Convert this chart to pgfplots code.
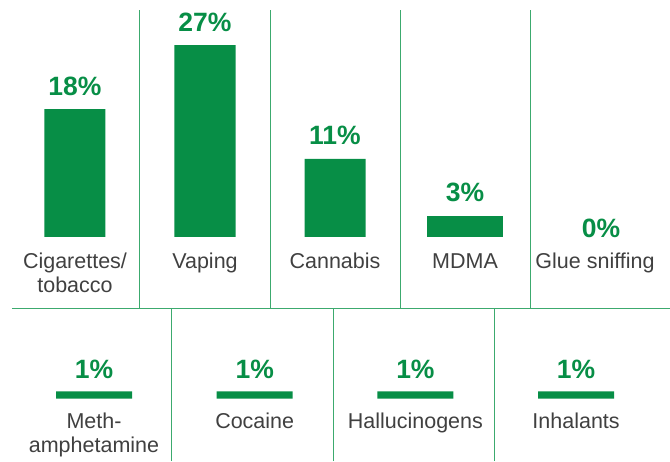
\documentclass[border=0pt]{standalone}
\usepackage{pgfplots}
\pgfplotsset{compat=1.18}
\usepackage{fontspec}
\setmainfont{Liberation Sans}
\definecolor{bargreen}{RGB}{7,142,70}
\definecolor{linegreen}{RGB}{60,170,110}
\definecolor{txtgray}{RGB}{64,64,64}
\newcommand{\twoline}[2]{{\setlength{\tabcolsep}{0pt}\begin{tabular}[t]{c}#1\\#2\end{tabular}}}
\pgfplotsset{
  panel/.style={
    scale only axis,
    axis line style={draw=none},
    ytick=\empty,
    ybar, bar shift=0pt,
    /pgf/number format/assume math mode=true,
    minor grid style={linegreen, line width=1pt},
    xminorgrids=true,
    major tick length=0pt, minor tick length=0pt,
    xticklabel style={font=\fontsize{21.5}{23.5}\selectfont, text=txtgray, anchor=base},
    nodes near coords,
    every node near coord/.append style={font=\fontsize{26.5}{28}\selectfont\bfseries, text=bargreen, anchor=base},
    nodes near coords={\pgfmathprintnumber{\pgfplotspointmeta}\%},
    clip=false,
  }
}
\begin{document}
\begin{tikzpicture}
\path[use as bounding box] (0,0) rectangle (670pt,461pt);
% top row
\begin{axis}[panel,
  at={(12pt,152pt)}, anchor=south west,
  width=658pt, height=299pt,
  xmin=-0.4846, xmax=4.5769, ymin=-10.127, ymax=31.927,
  xtick={0,1,2,3,4},
  xticklabels={{\twoline{Cigarettes/}{tobacco}}, Vaping, Cannabis, MDMA, Glue sniffing},
  xticklabel style={yshift=40pt},
  minor xtick={0.5,1.5,2.5,3.5},
  every node near coord/.append style={yshift=14pt},
]
\addplot[fill=bargreen, draw=none, bar width=61pt] coordinates {(0,18) (1,27) (2,11)};
\addplot[fill=bargreen, draw=none, bar width=76pt] coordinates {(3,3)};
\addplot[fill=none, draw=none, bar width=1pt, every node near coord/.append style={yshift=-15pt, xshift=6pt}] coordinates {(4,0)};
\draw[linegreen, line width=1pt] (rel axis cs:0,0) -- (rel axis cs:1,0);
\end{axis}
% bottom row
\begin{axis}[panel,
  at={(12pt,0pt)}, anchor=south west,
  width=658pt, height=152pt,
  xmin=-0.5103, xmax=3.5843, ymin=-8.79, ymax=12.59,
  xtick={0,1,2,3},
  xticklabels={{\twoline{Meth-}{amphetamine}}, Cocaine, Hallucinogens, Inhalants},
  xticklabel style={yshift=32pt},
  minor xtick={0.4835,1.489,2.495},
  every node near coord/.append style={yshift=13pt},
]
\addplot[fill=bargreen, draw=none, bar width=76pt] coordinates {(0,1) (1,1) (2,1) (3,1)};
\end{axis}
\end{tikzpicture}
\end{document}
